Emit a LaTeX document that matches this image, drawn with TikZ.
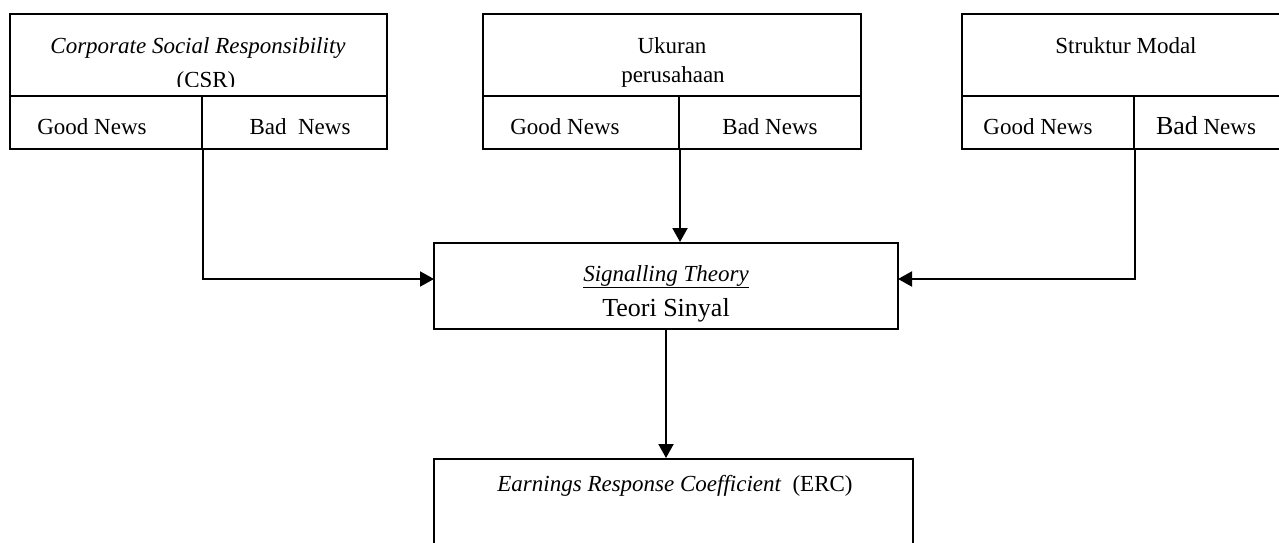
\documentclass[tikz,border=0pt]{standalone}
\usepackage{fontspec}
\setmainfont{Liberation Serif}
\usetikzlibrary{fit,arrows.meta}
\newcommand{\fsn}{\fontsize{23}{28}\selectfont}
\newcommand{\fsb}{\fontsize{26}{31}\selectfont}
\begin{document}
\begin{tikzpicture}[x=1pt,y=-1pt,
  cell/.style={draw, line width=2pt, inner sep=0pt},
  lbl/.style={anchor=base, inner sep=0pt, font=\fsn},
  arr/.style={line width=2pt, -{Triangle[length=14pt,width=15pt]}}]
\useasboundingbox (0,0) rectangle (1279,543);
% box 1
\node[cell, fit={(10,14) (387,96)}] (csrT) {};
\node[cell, fit={(10,96) (202,149)}] (gn1) {};
\node[cell, fit={(202,96) (387,149)}] (bn1) {};
% box 2
\node[cell, fit={(483,14) (861,96)}] (ukT) {};
\node[cell, fit={(483,96) (679,149)}] (gn2) {};
\node[cell, fit={(679,96) (861,149)}] (bn2) {};
% box 3
\node[cell, fit={(962,14) (1290,96)}] (smT) {};
\node[cell, fit={(962,96) (1134,149)}] (gn3) {};
\node[cell, fit={(1134,96) (1290,149)}] (bn3) {};
% centre boxes
\node[cell, fit={(434,243) (898,329)}] (sig) {};
\node[cell, fit={(434,459) (913,570)}] (erc) {};
% texts
\node[lbl] (t1) at (198,53) {\itshape Corporate Social Responsibility};
\begin{scope}
\clip (12,16) rectangle (385,86);
\node[lbl] (t2) at (206,87) {(CSR)};
\end{scope}
\node[lbl] (t3) at (92,134) {Good News};
\node[lbl] (t4) at (300,134) {Bad\ \ News};
\node[lbl] (t5) at (672,53) {Ukuran};
\node[lbl] (t6) at (673,82) {perusahaan};
\node[lbl] (t7) at (565,134) {Good News};
\node[lbl] (t8) at (770,134) {Bad News};
\node[lbl] (t9) at (1126,53) {Struktur Modal};
\node[lbl] (t10) at (1038,134) {Good News};
\node[lbl] (t11) at (1206,134) {{\fsb Bad} News};
\node[lbl] (t12) at (666,281) {\underline{\itshape Signalling Theory}};
\node[lbl, font=\fsb] (t13) at (666,316) {Teori Sinyal};
\node[lbl] (t14) at (675,491) {\itshape Earnings Response Coefficient\upshape\ \ (ERC)};
% connectors
\coordinate (sigL) at (434,279);
\coordinate (sigR) at (898,279);
\draw[arr] (gn1.south east) |- (sigL);
\draw[arr] (gn3.south east) |- (sigR);
\draw[arr] (gn2.south east) -- (gn2.south east |- sig.north);
\draw[arr] (sig.south) -- (sig.south |- erc.north);
\end{tikzpicture}
\end{document}
